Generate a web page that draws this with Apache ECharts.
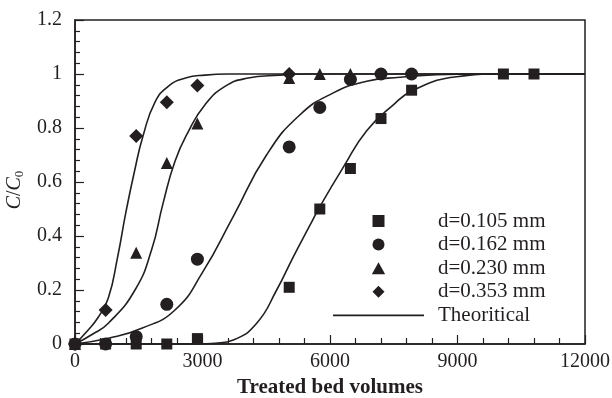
<!DOCTYPE html>
<html>
<head>
<meta charset="utf-8">
<script src="https://cdn.jsdelivr.net/npm/echarts@6/dist/echarts.min.js"></script>
<style>
  html, body { margin: 0; padding: 0; background: #fff; }
  #chart { width: 612px; height: 398px; }
</style>
</head>
<body>
<div id="chart"></div>
<script>
// measured points (bed volumes, C/C0)
const d105X = [0, 720, 1440, 2160, 2880, 5040, 5760, 6480, 7200, 7920, 10080, 10800];
const d105Y = [0, 0, 0, 0, 0.02, 0.21, 0.5, 0.65, 0.835, 0.94, 1, 1];
const d162X = [0, 720, 1440, 2160, 2880, 5040, 5760, 6480, 7200, 7920];
const d162Y = [0, 0, 0.027, 0.147, 0.314, 0.73, 0.876, 0.98, 1, 1];
const d230X = [0, 1440, 2160, 2880, 5040, 5760, 6480];
const d230Y = [0, 0.338, 0.67, 0.817, 0.985, 1, 1];
const d353X = [0, 720, 1440, 2160, 2880, 5040];
const d353Y = [0, 0.126, 0.77, 0.895, 0.957, 1];

// theoretical curves
const fit105X = [0, 2880, 3300, 3725, 4275, 4745, 5137, 5529, 5765, 6314, 6863, 7490, 7961, 8980, 10000, 11000, 12000];
const fit105Y = [0, 0, 0.003, 0.015, 0.077, 0.2, 0.323, 0.44, 0.51, 0.655, 0.79, 0.886, 0.94, 0.99, 1, 1, 1];
const fit162X = [0, 784, 1569, 2353, 3000, 3725, 4510, 5294, 6078, 6863, 7647, 8500, 9500, 10500, 12000];
const fit162Y = [0, 0.021, 0.058, 0.126, 0.265, 0.473, 0.701, 0.849, 0.93, 0.973, 0.988, 0.997, 1, 1, 1];
const fit230X = [0, 400, 784, 1412, 1804, 2070, 2353, 2667, 3059, 3529, 4039, 4824, 5500, 6500, 8000, 10000, 12000];
const fit230Y = [0, 0.035, 0.077, 0.2, 0.35, 0.52, 0.677, 0.787, 0.886, 0.954, 0.984, 0.996, 1, 1, 1, 1, 1];
const fit353X = [0, 300, 550, 784, 1000, 1200, 1400, 1600, 1880, 2200, 2600, 3060, 3600, 4500, 6000, 8000, 10000, 12000];
const fit353Y = [0, 0.05, 0.1, 0.17, 0.32, 0.49, 0.64, 0.77, 0.895, 0.955, 0.985, 0.996, 1, 1, 1, 1, 1, 1];

const xTicks = { min: 0, max: 12000, step: 3000 };
const yTicks = { min: 0, max: 1.2, step: 0.2 };

const ink = '#231f20';
const serif = '"Liberation Serif", "DejaVu Serif", serif';

const pairs = (xs, ys) => xs.map((x, i) => [x, ys[i]]);

const squarePath = 'path://M0,0H10V10H0Z';
const trianglePath = 'path://M5,0L10,9L0,9Z';
const diamondPath = 'path://M5,0L10,5L5,10L0,5Z';
const dashPath = 'path://M0,0H100V2H0Z';

function fitLine(xs, ys) {
  return {
    name: 'Theoritical',
    type: 'line',
    data: pairs(xs, ys),
    smooth: 0.5,
    symbol: 'none',
    showSymbol: false,
    silent: true,
    lineStyle: { color: ink, width: 1.6 },
    itemStyle: { color: ink },
  };
}

function points(name, xs, ys, symbol, size) {
  return {
    name,
    type: 'scatter',
    data: pairs(xs, ys),
    symbol,
    symbolSize: size,
    itemStyle: { color: ink, opacity: 1 },
  };
}

const chart = echarts.init(document.getElementById('chart'));
chart.setOption({
  animation: false,
  backgroundColor: '#fff',
  grid: {
    left: 75, right: 27, top: 20, bottom: 54,
    outerBoundsMode: 'none',
    containLabel: false,
    show: true, borderColor: ink, borderWidth: 1.5,
  },
  legend: {
    orient: 'vertical',
    left: 333, top: 210.5,
    padding: 0,
    itemWidth: 91, itemHeight: 12, itemGap: 2.6,
    textStyle: { fontFamily: serif, fontSize: 21, color: ink, padding: [0, 0, 0, 9] },
    data: [
      { name: 'd=0.105 mm', icon: squarePath },
      { name: 'd=0.162 mm', icon: 'circle' },
      { name: 'd=0.230 mm', icon: trianglePath },
      { name: 'd=0.353 mm', icon: diamondPath },
      { name: 'Theoritical', icon: dashPath },
    ],
  },
  xAxis: {
    type: 'value',
    min: xTicks.min, max: xTicks.max, interval: xTicks.step,
    name: 'Treated bed volumes',
    nameLocation: 'middle', nameGap: 32,
    nameTextStyle: { fontFamily: serif, fontSize: 21, fontWeight: 'bold', color: ink },
    axisLine: { lineStyle: { color: ink, width: 1.5 } },
    axisTick: { inside: true, length: 9, lineStyle: { color: ink, width: 1.2 } },
    minorTick: { show: true, splitNumber: 5, length: 6, lineStyle: { color: ink, width: 1.2 } },
    axisLabel: { fontFamily: serif, fontSize: 20, color: ink, margin: 8, formatter: (v) => String(v) },
    splitLine: { show: false },
  },
  yAxis: {
    type: 'value',
    min: yTicks.min, max: yTicks.max, interval: yTicks.step,
    name: '{i|C}{n|/}{i|C}{s|0}',
    nameLocation: 'middle', nameGap: 44,
    nameTextStyle: {
      color: ink,
      padding: [0, 16, 0, 0],
      rich: {
        i: { fontFamily: serif, fontSize: 20, fontStyle: 'italic', color: ink },
        n: { fontFamily: serif, fontSize: 20, color: ink },
        s: { fontFamily: serif, fontSize: 13, color: ink, padding: [10, 0, 0, 0] },
      },
    },
    axisLine: { lineStyle: { color: ink, width: 1.5 } },
    axisTick: { inside: true, length: 9, lineStyle: { color: ink, width: 1.2 } },
    minorTick: { show: true, splitNumber: 5, length: 5, lineStyle: { color: ink, width: 1.2 } },
    axisLabel: { fontFamily: serif, fontSize: 20, color: ink, margin: 13, formatter: (v) => String(v) },
    splitLine: { show: false },
  },
  series: [
    fitLine(fit105X, fit105Y),
    fitLine(fit162X, fit162Y),
    fitLine(fit230X, fit230Y),
    fitLine(fit353X, fit353Y),
    points('d=0.105 mm', d105X, d105Y, 'rect', 11),
    points('d=0.162 mm', d162X, d162Y, 'circle', 13),
    points('d=0.230 mm', d230X, d230Y, 'triangle', 12),
    points('d=0.353 mm', d353X, d353Y, 'diamond', 14),
  ],
});
</script>
</body>
</html>
